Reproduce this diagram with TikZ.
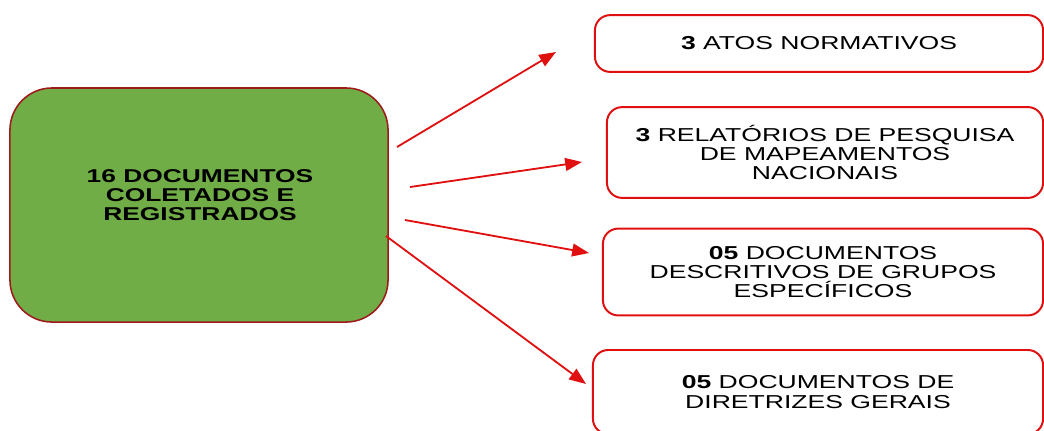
\documentclass[tikz,border=0pt]{standalone}
\usepackage{fontspec}
\setmainfont[FakeStretch=1.42]{Liberation Sans}
\usetikzlibrary{arrows.meta}
\definecolor{srcgreen}{HTML}{70AD47}
\definecolor{srcedge}{HTML}{9E1B1B}
\definecolor{boxred}{HTML}{E01010}

\begin{document}
\begin{tikzpicture}[
    x=0.025cm, y=-0.025cm,
    srcbox/.style={rectangle, rounded corners=1.05cm, fill=srcgreen, draw=srcedge,
      line width=1.1pt, minimum width=9.45cm, minimum height=5.85cm},
    srclbl/.style={font=\fontsize{13.2}{13.6}\selectfont\bfseries, align=center},
    catbox/.style={rectangle, rounded corners=0.38cm, draw=boxred, line width=1.4pt,
      font=\fontsize{13.3}{13.8}\selectfont, align=center},
    feed/.style={draw=boxred, line width=1.3pt, -{Triangle[length=4.2mm, width=3.2mm]}},
  ]

  \clip (0,0) rectangle (1044,430);

  % ---------- source
  \node[srcbox] (src) at (199,205) {};
  \node[srclbl] (srctxt) at (200,195) {16 DOCUMENTOS\\ COLETADOS E\\ REGISTRADOS};

  % ---------- categories
  \node[catbox, minimum width=11.2cm, minimum height=1.42cm] (c1) at (819,43.5)
    {\textbf{3} ATOS NORMATIVOS};
  \node[catbox, minimum width=10.9cm, minimum height=2.27cm] (c2) at (825,152.5)
    {\textbf{3} RELATÓRIOS DE PESQUISA\\ DE MAPEAMENTOS\\ NACIONAIS};
  \node[catbox, minimum width=11.0cm, minimum height=2.17cm] (c3) at (823,272)
    {\textbf{05} DOCUMENTOS\\ DESCRITIVOS DE GRUPOS\\ ESPECÍFICOS};
  \node[catbox, minimum width=11.25cm, minimum height=2.1cm] (c4) at (818,392)
    {\textbf{05} DOCUMENTOS DE\\ DIRETRIZES GERAIS};

  % ---------- arrows (loose ends)
  \coordinate (s1) at (397,147);
  \coordinate (t1) at (556,52);
  \coordinate (s2) at (410,187);
  \coordinate (t2) at (582,162);
  \coordinate (s3) at (405,220);
  \coordinate (t3) at (589,253);
  \coordinate (s4) at (386,236);
  \coordinate (t4) at (586,384);

  \foreach \i in {1,...,4}
    \draw[feed] (s\i) -- (t\i);

\end{tikzpicture}
\end{document}
